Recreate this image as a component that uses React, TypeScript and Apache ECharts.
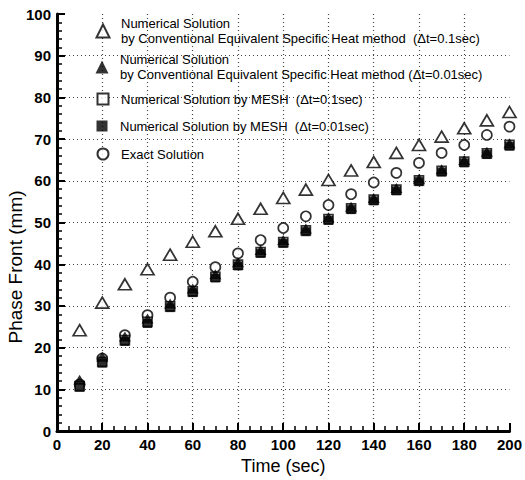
import React, { useEffect, useRef } from "react";
import * as echarts from "echarts";

const times = [10, 20, 30, 40, 50, 60, 70, 80, 90, 100, 110, 120, 130, 140, 150, 160, 170, 180, 190, 200];
const ceshCoarse = [24.2, 30.8, 35.2, 38.8, 42.3, 45.4, 47.9, 50.9, 53.3, 55.9, 57.9, 60.2, 62.5, 64.5, 66.7, 68.6, 70.6, 72.6, 74.5, 76.5];
const ceshFine = [12.3, 17.8, 22.7, 27.0, 30.6, 34.2, 37.6, 40.5, 43.4, 45.8, 48.6, 51.3, 53.8, 55.9, 58.3, 60.5, 62.8, 65.0, 67.0, 69.0];
const meshCoarse = [10.8, 16.6, 21.8, 26.2, 29.9, 33.5, 37.0, 39.9, 42.9, 45.3, 48.1, 50.8, 53.4, 55.5, 57.9, 60.1, 62.4, 64.6, 66.6, 68.6];
const meshFine = [10.5, 16.3, 21.5, 25.8, 29.6, 33.2, 36.7, 39.6, 42.6, 45.0, 47.8, 50.5, 53.1, 55.2, 57.6, 59.8, 62.1, 64.3, 66.3, 68.3];
const exact = [11.2, 17.4, 23.0, 27.8, 32.0, 35.8, 39.3, 42.6, 45.8, 48.7, 51.5, 54.2, 56.8, 59.6, 61.9, 64.3, 66.7, 68.6, 71.0, 73.0];

const names = [
  "Numerical Solution\nby Conventional Equivalent Specific Heat method  (\u0394t=0.1sec)",
  "Numerical Solution\nby Conventional Equivalent Specific Heat method (\u0394t=0.01sec)",
  "Numerical Solution by MESH  (\u0394t=0.1sec)",
  "Numerical Solution by MESH  (\u0394t=0.01sec)",
  "Exact Solution",
];
const legendCenters = [31, 67, 99, 126, 154];
const legendLines = [2, 2, 1, 1, 1];

const FONT = "'Liberation Sans', Arial, Helvetica, sans-serif";

export default function App() {
  const ref = useRef<HTMLDivElement>(null);
  useEffect(() => {
    if (!ref.current) return;
    const chart = echarts.init(ref.current, null, { renderer: "svg" });
    const pair = (ys: number[]) => times.map((t, i) => [t, ys[i]]);
    const hollow = { color: "#fff", borderColor: "#000", borderWidth: 1.7 };
    const filled = { color: "#000", borderColor: "#000", borderWidth: 0 };
    const gridColors = (n: number) =>
      Array.from({ length: n }, (_, i) => (i === 0 || i === n - 1 ? "rgba(0,0,0,0)" : "#444"));

    const seriesDefs = [
      { name: names[0], data: ceshCoarse, symbol: "triangle", size: [13, 11], style: hollow },
      { name: names[4], data: exact, symbol: "circle", size: 10, style: hollow },
      { name: names[2], data: meshCoarse, symbol: "rect", size: 9, style: hollow },
      { name: names[1], data: ceshFine, symbol: "triangle", size: [12, 10], style: filled },
      { name: names[3], data: meshFine, symbol: "rect", size: 9, style: filled },
    ];
    const legendIconSize = [13, 13, 11, 11, 11];

    const legends = names.map((n, i) => {
      const h = legendLines[i] * 15;
      const w = legendIconSize[i];
      return {
        data: [n],
        orient: "vertical" as const,
        left: 102 - w / 2,
        top: legendCenters[i] - h / 2,
        padding: 0,
        itemWidth: w,
        itemHeight: w,
        symbolKeepAspect: true,
        selectedMode: false,
        textStyle: {
          fontFamily: FONT,
          fontSize: 13,
          color: "#000",
          lineHeight: 15,
          padding: [0, 0, 0, 120 - (102 + w / 2 + 5)],
        },
      };
    });

    chart.setOption({
      animation: false,
      backgroundColor: "#fff",
      grid: { left: 57, right: 13, top: 14, bottom: 42, containLabel: false },
      legend: legends,
      xAxis: {
        type: "value",
        min: 0,
        max: 200,
        interval: 20,
        name: "Time (sec)",
        nameLocation: "middle",
        nameGap: 23,
        nameTextStyle: { fontFamily: FONT, fontSize: 18, color: "#000" },
        axisLine: { show: true, onZero: false, lineStyle: { color: "#000", width: 3 } },
        axisTick: { show: true, inside: true, length: 8, lineStyle: { color: "#000", width: 2 } },
        minorTick: { show: true, splitNumber: 4, length: 5, lineStyle: { color: "#000", width: 1.5 } },
        axisLabel: { fontFamily: FONT, fontSize: 15, fontWeight: "bold", color: "#000", margin: 6 },
        splitLine: { show: true, lineStyle: { type: [1, 3], color: gridColors(11), width: 1.2 } },
      },
      yAxis: {
        type: "value",
        min: 0,
        max: 100,
        interval: 10,
        axisLine: { show: true, onZero: false, lineStyle: { color: "#000", width: 3 } },
        axisTick: { show: true, inside: true, length: 8, lineStyle: { color: "#000", width: 2 } },
        minorTick: { show: true, splitNumber: 5, length: 5, lineStyle: { color: "#000", width: 1.5 } },
        axisLabel: { fontFamily: FONT, fontSize: 15, fontWeight: "bold", color: "#000", margin: 6 },
        splitLine: { show: true, lineStyle: { type: [1, 3], color: gridColors(11), width: 1.2 } },
      },
      graphic: [
        {
          type: "text",
          x: 15,
          y: 267,
          rotation: Math.PI / 2,
          style: {
            text: "Phase Front (mm)",
            fontFamily: FONT,
            fontSize: 19,
            fill: "#000",
            textAlign: "center",
            textVerticalAlign: "middle",
          },
        },
      ],
      series: seriesDefs.map((s) => ({
        type: "scatter",
        name: s.name,
        data: pair(s.data),
        symbol: s.symbol,
        symbolSize: s.size,
        itemStyle: s.style,
        emphasis: { disabled: true },
      })),
    });
    return () => chart.dispose();
  }, []);
  return <div ref={ref} style={{ width: 525, height: 480, position: "absolute", left: 0, top: 0 }} />;
}
